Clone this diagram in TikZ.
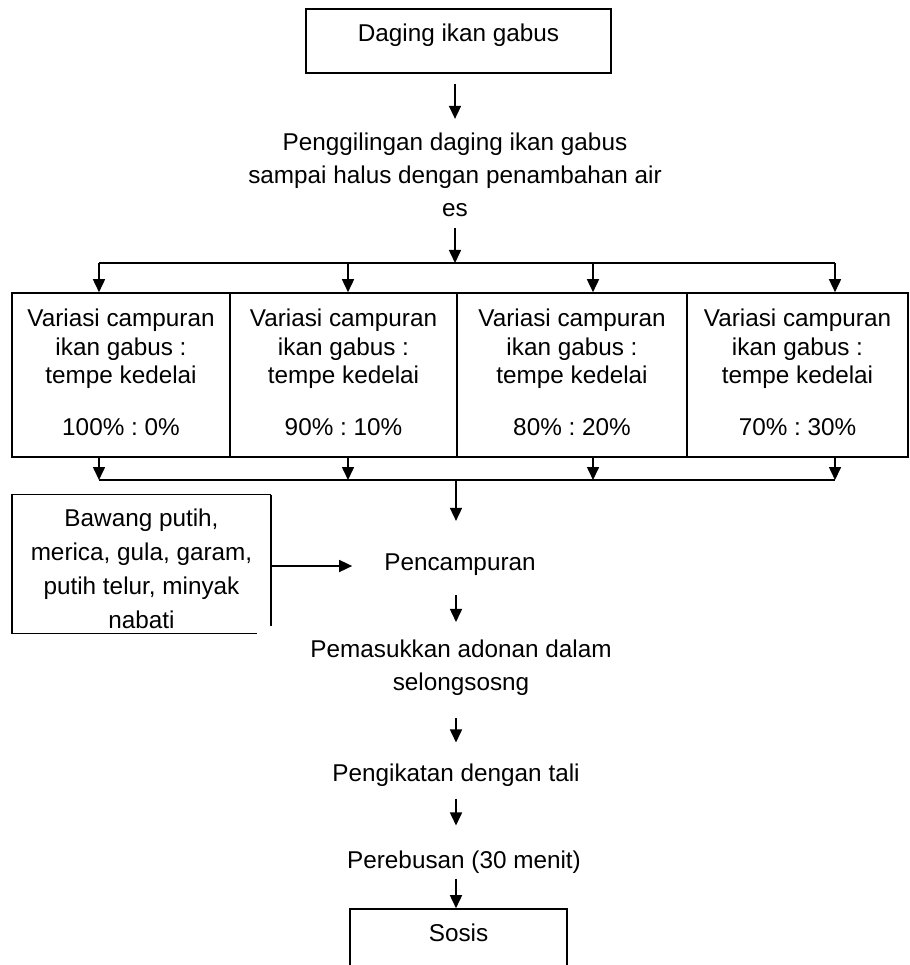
\documentclass[tikz,border=0pt]{standalone}
\usepackage{fontspec}
\setmainfont{Liberation Sans}
\usetikzlibrary{arrows.meta}
\frenchspacing

\begin{document}
\begin{tikzpicture}[x=1pt,y=-1pt,
  font=\fontsize{24.3}{33}\selectfont,
  every node/.style={inner sep=4pt},
  kotak/.style={draw,line width=1.6pt,align=center},
  tahap/.style={align=center},
  variasi/.style={kotak,minimum height=164pt,text depth=6pt,font=\fontsize{24.3}{28.5}\selectfont},
  panah/.style={-{Triangle[width=12pt,length=13pt]},line width=1.6pt},
  garis/.style={line width=1.6pt}]
\useasboundingbox (0,0) rectangle (909,965);

\node[kotak,minimum width=305pt,minimum height=64pt,text depth=16pt] (daging) at (458.5,41) {Daging ikan gabus};
\node[tahap] (giling) at (455,175) {Penggilingan daging ikan gabus\\sampai halus dengan penambahan air\\es};
\draw[panah,shorten <=10pt,shorten >=10pt] (daging.south -| giling) -- (giling.north);

% empat variasi campuran
\node[variasi,minimum width=218pt] (v100) at (121,375) {Variasi campuran\\ikan gabus :\\tempe kedelai\\[23pt]100\% : 0\%};
\node[variasi,minimum width=227pt] (v90) at (343.5,375) {Variasi campuran\\ikan gabus :\\tempe kedelai\\[23pt]90\% : 10\%};
\node[variasi,minimum width=230pt] (v80) at (572,375) {Variasi campuran\\ikan gabus :\\tempe kedelai\\[23pt]80\% : 20\%};
\node[variasi,minimum width=221pt] (v70) at (797.5,375) {Variasi campuran\\ikan gabus :\\tempe kedelai\\[23pt]70\% : 30\%};

\coordinate (cabang) at (455,263);
\coordinate (a1) at (99,263);
\coordinate (a2) at (348,263);
\coordinate (a3) at (593,263);
\coordinate (a4) at (835,263);
\draw[panah,shorten <=7pt] (giling.south) -- (cabang);
\draw[garis] (a1) -- (a4);
\foreach \i/\v in {1/v100,2/v90,3/v80,4/v70}
  \draw[panah] (a\i) -- (a\i |- \v.north);

\coordinate (gabung) at (456,480);
\coordinate (b1) at (99,480);
\coordinate (b2) at (348,480);
\coordinate (b3) at (593,480);
\coordinate (b4) at (835,480);
\foreach \i/\v in {1/v100,2/v90,3/v80,4/v70}
  \draw[panah] (b\i |- \v.south) -- (b\i);
\draw[garis] (b1) -- (b4);

% pencampuran dengan bumbu
\node[tahap] (campur) at (460,565) {Pencampuran};
\draw[panah,shorten >=29pt] (gabung) -- (gabung |- campur.north);
\node[tahap,minimum width=259pt,minimum height=138pt,font=\fontsize{24.3}{34}\selectfont] (bumbu) at (141.5,564) {\rule{0pt}{28pt}Bawang putih,\\merica, gula, garam,\\putih telur, minyak\\nabati};
\draw[garis] (bumbu.north east) -- (bumbu.north west) -- (bumbu.south west) -- ([xshift=-14pt]bumbu.south east);
\draw[garis] (bumbu.north east) -- ([yshift=7pt]bumbu.south east);
\draw[panah,shorten >=28pt] ([yshift=-2pt]bumbu.east) -- ([yshift=-2pt]bumbu.east -| campur.west);

\node[tahap] (masuk) at (461,668) {Pemasukkan adonan dalam\\selongsosng};
\draw[panah,shorten <=15pt,shorten >=14pt] (campur.south -| gabung) -- (gabung |- masuk.north);
\node[tahap] (ikat) at (456,775) {Pengikatan dengan tali};
\draw[panah,shorten <=18pt,shorten >=17pt] (masuk.south -| ikat) -- (ikat.north);
\node[tahap] (rebus) at (464,862) {Perebusan (30 menit)};
\draw[panah,shorten <=8pt,shorten >=21pt] (ikat.south) -- (ikat |- rebus.north);
\node[kotak,minimum width=217pt,minimum height=64pt,text depth=17pt] (sosis) at (458.5,941) {Sosis};
\draw[panah,shorten <=1pt] (rebus.south -| ikat) -- (ikat |- sosis.north);
\end{tikzpicture}
\end{document}
